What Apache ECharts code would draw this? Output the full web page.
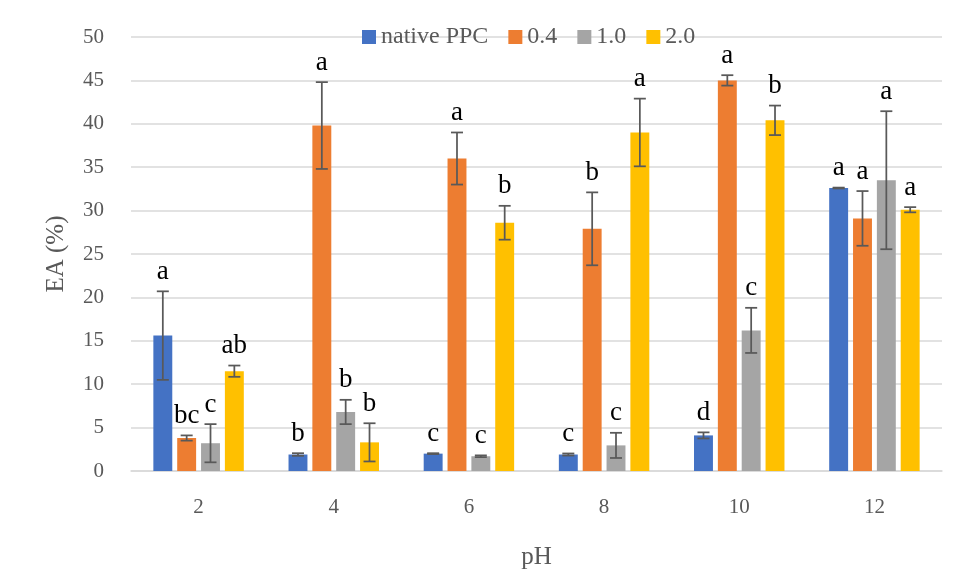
<!DOCTYPE html>
<html><head><meta charset="utf-8">
<script src="https://cdn.jsdelivr.net/npm/echarts@6/dist/echarts.min.js"></script>
<style>html,body{margin:0;padding:0;background:#fff}#c{width:960px;height:583px}</style>
</head><body><div id="c"></div>
<script>
const categories = ['2', '4', '6', '8', '10', '12'];
const seriesNames = ['native PPC', '0.4', '1.0', '2.0'];
const seriesColors = ['#4472C4', '#ED7D31', '#A5A5A5', '#FFC000'];
const yTicks = { min: 0, max: 50, interval: 5 };

const nativeMean = [15.6, 1.9, 2.0, 1.9, 4.1, 32.6];
const nativeSD   = [5.1, 0.15, 0.05, 0.12, 0.35, 0.05];
const nativeLetters = ['a', 'b', 'c', 'c', 'd', 'a'];

const c04Mean = [3.8, 39.8, 36.0, 27.9, 45.0, 29.1];
const c04SD   = [0.3, 5.0, 3.0, 4.2, 0.6, 3.15];
const c04Letters = ['bc', 'a', 'a', 'b', 'a', 'a'];

const c10Mean = [3.2, 6.8, 1.7, 2.95, 16.2, 33.5];
const c10SD   = [2.2, 1.4, 0.1, 1.45, 2.6, 7.95];
const c10Letters = ['c', 'b', 'c', 'c', 'c', 'a'];

const c20Mean = [11.5, 3.3, 28.6, 39.0, 40.4, 30.1];
const c20SD   = [0.65, 2.2, 1.95, 3.9, 1.7, 0.3];
const c20Letters = ['ab', 'b', 'b', 'a', 'b', 'a'];

const means = [nativeMean, c04Mean, c10Mean, c20Mean];
const sds = [nativeSD, c04SD, c10SD, c20SD];
const letters = [nativeLetters, c04Letters, c10Letters, c20Letters];

const BAR_FRAC = 0.14, GAP = 0.26;
const FONT = '"Liberation Serif", "Times New Roman", serif';

function barSeries(i) {
  return {
    type: 'bar', name: seriesNames[i], data: means[i],
    barWidth: (BAR_FRAC * 100) + '%', barGap: (GAP * 100) + '%',
    itemStyle: { color: seriesColors[i] }, z: 2
  };
}
function errSeries(idx) {
  return {
    type: 'custom', name: 'err' + idx,
    data: means[idx].map((m, i) => [i, m, sds[idx][i]]),
    encode: { x: 0, y: 1 }, z: 10, silent: true,
    renderItem: function (params, api) {
      const ci = api.value(0), m = api.value(1), sd = api.value(2);
      const letter = letters[idx][params.dataIndex];
      const catW = api.size([1, 0])[0];
      const bw = catW * BAR_FRAC;
      const off = (idx - 1.5) * bw * (1 + GAP);
      const top = api.coord([ci, m + sd]);
      const bot = api.coord([ci, m - sd]);
      const x = top[0] + off;
      const cap = 6;
      const ls = { stroke: '#595959', lineWidth: 1.75 };
      return { type: 'group', children: [
        { type: 'line', shape: { x1: x, y1: top[1], x2: x, y2: bot[1] }, style: ls },
        { type: 'line', shape: { x1: x - cap, y1: top[1], x2: x + cap, y2: top[1] }, style: ls },
        { type: 'line', shape: { x1: x - cap, y1: bot[1], x2: x + cap, y2: bot[1] }, style: ls },
        { type: 'text', style: { text: letter, x: x, y: top[1] - 6, textAlign: 'center', textVerticalAlign: 'bottom', align: 'center', verticalAlign: 'bottom', font: '27px ' + FONT, fill: '#000' } }
      ]};
    }
  };
}

const chart = echarts.init(document.getElementById('c'));
chart.setOption({
  animation: false,
  backgroundColor: '#fff',
  textStyle: { fontFamily: FONT },
  grid: { left: 131, right: 18, top: 37, bottom: 112 },
  legend: {
    data: seriesNames, icon: 'rect', itemWidth: 14, itemHeight: 14, itemGap: 20,
    left: 362, top: 25, padding: 0,
    textStyle: { fontSize: 24, color: '#595959', fontFamily: FONT }
  },
  xAxis: {
    type: 'category', data: categories,
    axisLine: { lineStyle: { color: '#d9d9d9', width: 1.5 } },
    axisTick: { show: false },
    axisLabel: { fontSize: 21, color: '#595959', margin: 26, fontFamily: FONT },
    name: 'pH', nameLocation: 'middle', nameGap: 74,
    nameTextStyle: { fontSize: 25, color: '#595959', fontFamily: FONT }
  },
  yAxis: {
    type: 'value', min: yTicks.min, max: yTicks.max, interval: yTicks.interval,
    axisLine: { show: false }, axisTick: { show: false },
    splitLine: { lineStyle: { color: '#d9d9d9', width: 1.5 } },
    axisLabel: { fontSize: 21, color: '#595959', margin: 27, fontFamily: FONT },
    name: 'EA (%)', nameLocation: 'middle', nameGap: 62,
    nameTextStyle: { fontSize: 25, color: '#595959', fontFamily: FONT }
  },
  series: [0, 1, 2, 3].map(barSeries).concat([0, 1, 2, 3].map(errSeries))
});
</script></body></html>
